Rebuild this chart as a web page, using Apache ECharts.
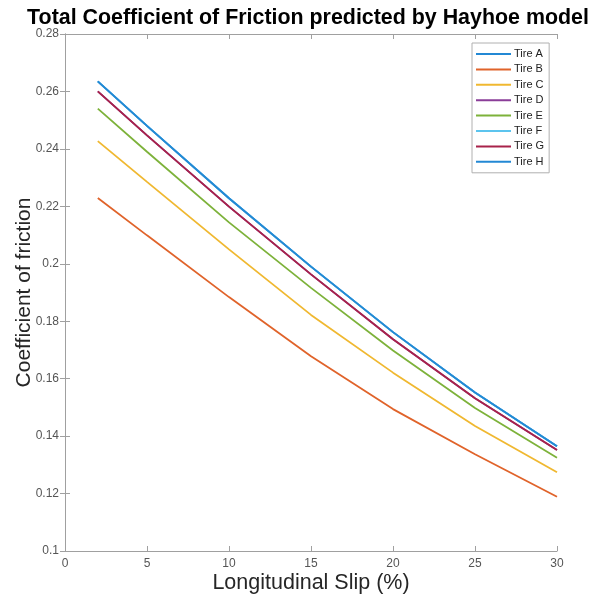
<!DOCTYPE html>
<html>
<head>
<meta charset="utf-8">
<script src="https://cdn.jsdelivr.net/npm/echarts@6/dist/echarts.min.js"></script>
<style>
  html, body { margin: 0; padding: 0; background: #fff; }
  #chart { width: 600px; height: 605px; }
</style>
</head>
<body>
<div id="chart"></div>
<script>
// Longitudinal slip sample points (%)
const slip = [2, 5, 10, 15, 20, 25, 30];

// Total coefficient of friction per tire
const tireA = [0.2635, 0.2480, 0.2228, 0.1990, 0.1762, 0.1552, 0.1365];
const tireB = [0.2229, 0.2099, 0.1884, 0.1678, 0.1494, 0.1337, 0.1189];
const tireC = [0.2427, 0.2285, 0.2050, 0.1822, 0.1621, 0.1435, 0.1274];
const tireD = [0.2600, 0.2447, 0.2199, 0.1963, 0.1737, 0.1532, 0.1352];
const tireE = [0.2540, 0.2390, 0.2144, 0.1916, 0.1698, 0.1498, 0.1325];
const tireF = [0.2635, 0.2480, 0.2228, 0.1990, 0.1762, 0.1552, 0.1365];
const tireG = [0.2600, 0.2447, 0.2199, 0.1963, 0.1737, 0.1532, 0.1352];
const tireH = [0.2635, 0.2480, 0.2228, 0.1990, 0.1762, 0.1552, 0.1365];

const tireNames = ['Tire A', 'Tire B', 'Tire C', 'Tire D', 'Tire E', 'Tire F', 'Tire G', 'Tire H'];
const tireValues = [tireA, tireB, tireC, tireD, tireE, tireF, tireG, tireH];
const tireColors = ['#2388d4', '#e0632a', '#f0b830', '#8a3d98', '#7db23a', '#5cc4ee', '#a8224a', '#2388d4'];

const xTicks = { min: 0, max: 30, interval: 5 };
const yTicks = { min: 0.1, max: 0.28, interval: 0.02 };

const font = 'Liberation Sans, Arial, Helvetica, sans-serif';
const axisGray = '#a0a0a0';
const labelGray = '#555';

const series = tireNames.map((name, i) => ({
  name: name,
  type: 'line',
  data: slip.map((x, j) => [x, tireValues[i][j]]),
  showSymbol: false,
  symbol: 'none',
  smooth: false,
  lineStyle: { width: 1.8, color: tireColors[i] },
  itemStyle: { color: tireColors[i] },
  emphasis: { disabled: true },
  xAxisIndex: 0,
  yAxisIndex: 0
}));

const baseAxisLine = { show: true, lineStyle: { color: axisGray, width: 1 } };
const baseTick = { show: true, inside: true, length: 5, lineStyle: { color: axisGray } };

const chart = echarts.init(document.getElementById('chart'), null, { renderer: 'canvas' });
chart.setOption({
  animation: false,
  backgroundColor: '#fff',
  title: {
    text: 'Total Coefficient of Friction predicted by Hayhoe model',
    left: 303,
    textAlign: 'center',
    top: 3,
    textStyle: { fontFamily: font, fontSize: 21.4, fontWeight: 'bold', color: '#000' }
  },
  legend: {
    orient: 'vertical',
    left: 472,
    top: 43,
    data: tireNames,
    icon: 'rect',
    itemWidth: 35,
    itemHeight: 2,
    itemGap: 3.4,
    padding: [5, 5, 5, 4],
    borderColor: '#b0b0b0',
    borderWidth: 1,
    backgroundColor: '#fff',
    textStyle: { fontFamily: font, fontSize: 11, color: '#222', lineHeight: 12, padding: [0, 0, 0, -2] }
  },
  grid: { left: 65, right: 43, top: 34, bottom: 54, containLabel: false },
  xAxis: [
    {
      type: 'value', min: xTicks.min, max: xTicks.max, interval: xTicks.interval,
      name: 'Longitudinal Slip (%)', nameLocation: 'middle', nameGap: 21, nameMoveOverlap: false,
      nameTextStyle: { fontFamily: font, fontSize: 21.5, color: '#262626' },
      axisLine: baseAxisLine, axisTick: baseTick,
      axisLabel: { fontFamily: font, fontSize: 12, color: labelGray, margin: 7 },
      splitLine: { show: false }
    },
    {
      type: 'value', position: 'top', min: xTicks.min, max: xTicks.max, interval: xTicks.interval,
      axisLine: baseAxisLine, axisTick: baseTick, axisLabel: { show: false }, splitLine: { show: false }
    }
  ],
  yAxis: [
    {
      type: 'value', min: yTicks.min, max: yTicks.max, interval: yTicks.interval,
      name: 'Coefficient of friction', nameLocation: 'middle', nameGap: 30, nameMoveOverlap: false,
      nameTextStyle: { fontFamily: font, fontSize: 21, color: '#262626' },
      axisLine: baseAxisLine, axisTick: baseTick,
      axisLabel: { fontFamily: font, fontSize: 12, color: labelGray, margin: 6,
        formatter: v => String(+v.toFixed(2)) },
      splitLine: { show: false }
    },
    {
      type: 'value', position: 'right', min: yTicks.min, max: yTicks.max, interval: yTicks.interval,
      axisLine: baseAxisLine, axisTick: baseTick, axisLabel: { show: false }, splitLine: { show: false }
    }
  ],
  series: series
});
</script>
</body>
</html>
